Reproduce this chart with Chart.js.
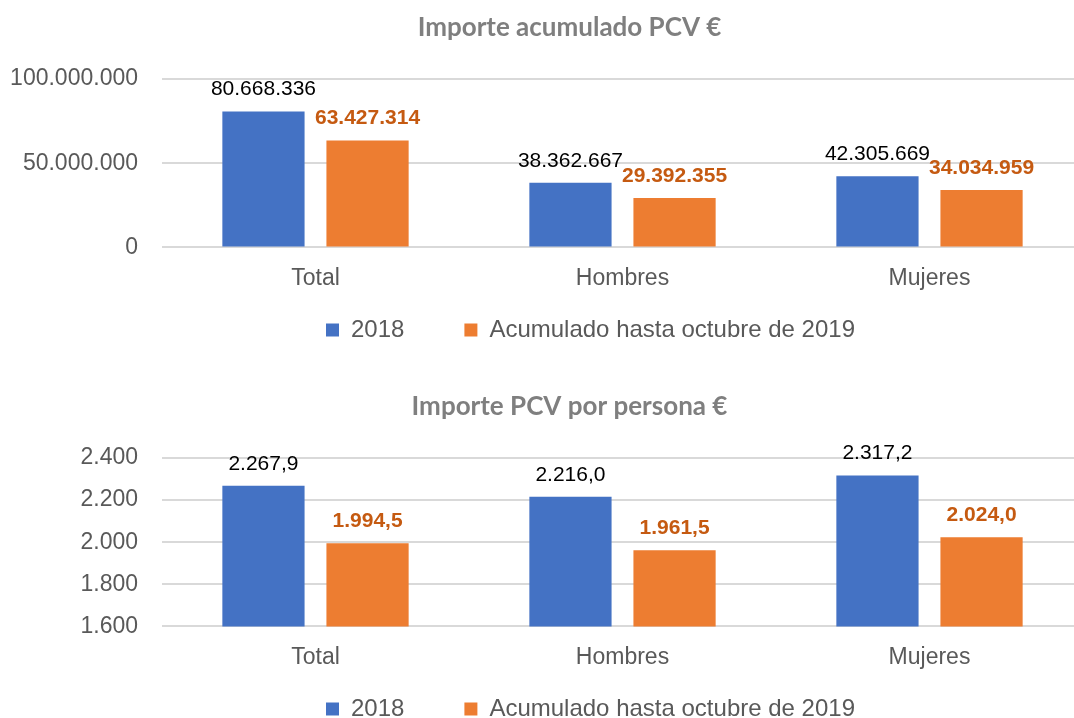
<!DOCTYPE html>
<html lang="es">
<head>
<meta charset="utf-8">
<title>Importe PCV</title>
<script src="https://cdn.jsdelivr.net/npm/chart.js@4.4.1/dist/chart.umd.min.js"></script>
<style>
  html, body { margin: 0; padding: 0; background: #fff; overflow: hidden; }
  #page { position: relative; width: 1074px; height: 718px; overflow: hidden; }
  .box { position: absolute; left: 0; width: 1083px; height: 403px; }
</style>
</head>
<body>
<div id="page">
  <div class="box" style="top:0"><canvas id="importeChart"></canvas></div>
  <div class="box" style="top:379px"><canvas id="personaChart"></canvas></div>
</div>
<script>
// Datos
const categories = ['Total', 'Hombres', 'Mujeres'];
const seriesNames = ['2018', 'Acumulado hasta octubre de 2019'];

const importe2018 = [80668336, 38362667, 42305669];
const importe2019 = [63427314, 29392355, 34034959];
const importeTicks = [0, 50000000, 100000000];

const persona2018 = [2267.9, 2216.0, 2317.2];
const persona2019 = [1994.5, 1961.5, 2024.0];
const personaTicks = [1600, 1800, 2000, 2200, 2400];

const blue = '#4472C4';
const orange = '#ED7D31';
const labelOrange = '#C55A11';
const axisGrey = '#595959';
const font = "'Liberation Sans', Arial, sans-serif";

// formato español: 1.234.567,8
function fmtEs(v, dec) {
  const parts = v.toFixed(dec).split('.');
  parts[0] = parts[0].replace(/\B(?=(\d{3})+(?!\d))/g, '.');
  return parts.join(',');
}

// etiquetas de datos encima de las barras
const valueLabels = {
  id: 'valueLabels',
  afterDatasetsDraw(chart, args, opts) {
    const ctx = chart.ctx;
    ctx.save();
    ctx.textAlign = 'center';
    ctx.textBaseline = 'middle';
    chart.data.datasets.forEach((ds, i) => {
      const meta = chart.getDatasetMeta(i);
      ctx.font = (i === 1 ? 'bold ' : '') + '21px ' + font;
      ctx.fillStyle = i === 1 ? labelOrange : '#000';
      meta.data.forEach((bar, j) => {
        ctx.fillText(fmtEs(ds.data[j], opts.decimals), bar.x, bar.y - 22);
      });
    });
    ctx.restore();
  }
};

// desplazar título y leyenda como en el original
const shiftBoxes = {
  id: 'shiftBoxes',
  afterLayout(chart, args, opts) {
    chart.titleBlock.left += opts.title;
    chart.titleBlock.right += opts.title;
    chart.legend.left += opts.legendX;
    chart.legend.right += opts.legendX;
    chart.legend.top += opts.legendY;
    chart.legend.bottom += opts.legendY;
  }
};

function makeChart(id, title, data2018, data2019, ticks, decimals) {
  const ctx = document.getElementById(id).getContext('2d');
  return new Chart(ctx, {
    type: 'bar',
    data: {
      labels: categories,
      datasets: [
        { label: seriesNames[0], data: data2018, backgroundColor: blue },
        { label: seriesNames[1], data: data2019, backgroundColor: orange }
      ]
    },
    plugins: [valueLabels, shiftBoxes],
    options: {
      responsive: true,
      maintainAspectRatio: false,
      animation: false,
      categoryPercentage: 0.678,
      barPercentage: 0.79,
      layout: { padding: 0 },
      scales: {
        x: {
          grid: { display: false, drawTicks: false },
          border: { display: false },
          ticks: { color: axisGrey, padding: 17, font: { family: font, size: 23 } }
        },
        y: {
          min: ticks[0],
          max: ticks[ticks.length - 1],
          grid: { color: '#d9d9d9', lineWidth: 2, drawTicks: false },
          border: { display: false },
          ticks: {
            stepSize: ticks[1] - ticks[0],
            color: axisGrey,
            padding: 24,
            font: { family: font, size: 23 },
            callback: v => fmtEs(v, 0)
          },
          afterFit(scale) { scale.width = 162; }
        }
      },
      plugins: {
        title: {
          display: true,
          text: title,
          color: '#7f7f7f',
          font: { family: 'Lato', size: 26, weight: 'bold', lineHeight: 1.25 },
          padding: { top: 11, bottom: 35.5 }
        },
        legend: {
          position: 'bottom',
          labels: {
            color: axisGrey,
            boxWidth: 13,
            boxHeight: 13,
            padding: 60,
            font: { family: font, size: 24 }
          }
        },
        tooltip: { enabled: false },
        valueLabels: { decimals: decimals },
        shiftBoxes: { title: 28, legendX: 49, legendY: -51 }
      }
    }
  });
}

makeChart('importeChart', 'Importe acumulado PCV €', importe2018, importe2019, importeTicks, 0);
makeChart('personaChart', 'Importe PCV por persona €', persona2018, persona2019, personaTicks, 1);
</script>
</body>
</html>
